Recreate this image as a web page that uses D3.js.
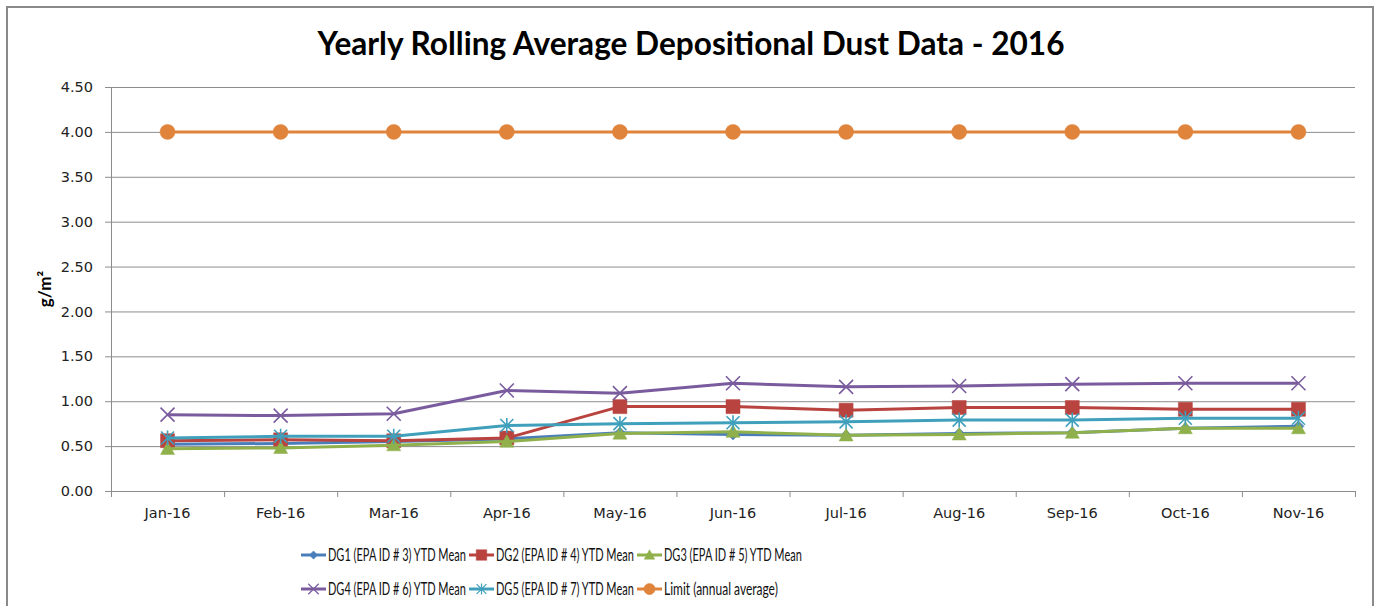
<!DOCTYPE html>
<html>
<head>
<meta charset="utf-8">
<script src="https://cdn.jsdelivr.net/npm/d3@7"></script>
<style>
  body { margin: 0; background: #fff; }
  svg { display: block; }
</style>
</head>
<body>
<div id="chart"></div>
<script>
// data
const months = ["Jan-16", "Feb-16", "Mar-16", "Apr-16", "May-16", "Jun-16", "Jul-16", "Aug-16", "Sep-16", "Oct-16", "Nov-16"]
const dg1 = [0.52, 0.53, 0.55, 0.58, 0.65, 0.63, 0.62, 0.64, 0.65, 0.70, 0.72]
const dg2 = [0.56, 0.57, 0.56, 0.59, 0.94, 0.94, 0.90, 0.93, 0.93, 0.91, 0.91]
const dg3 = [0.47, 0.48, 0.51, 0.55, 0.64, 0.66, 0.62, 0.63, 0.65, 0.70, 0.70]
const dg4 = [0.85, 0.84, 0.86, 1.12, 1.09, 1.20, 1.16, 1.17, 1.19, 1.20, 1.20]
const dg5 = [0.59, 0.61, 0.61, 0.73, 0.75, 0.76, 0.77, 0.79, 0.79, 0.81, 0.81]
const limit = [4.00, 4.00, 4.00, 4.00, 4.00, 4.00, 4.00, 4.00, 4.00, 4.00, 4.00]
const seriesNames = ["DG1 (EPA ID # 3) YTD Mean", "DG2 (EPA ID # 4) YTD Mean", "DG3 (EPA ID # 5) YTD Mean",
                     "DG4 (EPA ID # 6) YTD Mean", "DG5 (EPA ID # 7) YTD Mean", "Limit (annual average)"]
const yTicks = [0, 0.5, 1, 1.5, 2, 2.5, 3, 3.5, 4, 4.5]

const series = [
  {name: seriesNames[0], values: dg1, color: "#4A7EBB", marker: "diamond"},
  {name: seriesNames[1], values: dg2, color: "#B8433F", marker: "square"},
  {name: seriesNames[2], values: dg3, color: "#8FB04A", marker: "triangle"},
  {name: seriesNames[3], values: dg4, color: "#7A5C9E", marker: "x"},
  {name: seriesNames[4], values: dg5, color: "#40A0BC", marker: "star"},
  {name: seriesNames[5], values: limit, color: "#E0843C", marker: "circle"}
]

const W = 1379, H = 606
const margin = {top: 87, left: 111, right: 24, bottom: 115}
const innerW = W - margin.left - margin.right
const innerH = H - margin.top - margin.bottom

const svg = d3.select("#chart").append("svg")
    .attr("width", W)
    .attr("height", H)

// outer chart frame
svg.append("rect")
    .attr("x", 7).attr("y", 7)
    .attr("width", 1366).attr("height", 640)
    .attr("fill", "#fff")
    .attr("stroke", "#8a8a8a")
    .attr("stroke-width", 2)

svg.append("text")
    .attr("id", "title")
    .attr("x", 691).attr("y", 55)
    .attr("text-anchor", "middle")
    .attr("textLength", 747)
    .attr("lengthAdjust", "spacingAndGlyphs")
    .style("font", "bold 32px Lato, sans-serif")
    .attr("fill", "#000")
    .text("Yearly Rolling Average Depositional Dust Data - 2016")

const x = d3.scaleBand().domain(months).range([0, innerW]).padding(0)
const y = d3.scaleLinear().domain([0, 4.5]).range([innerH, 0])

const g = svg.append("g").attr("transform", `translate(${margin.left},${margin.top})`)

// gridlines
g.append("g")
    .call(d3.axisLeft(y).tickValues(yTicks.slice(1)).tickSize(-innerW).tickFormat(""))
    .call(s => s.select(".domain").remove())
    .call(s => s.selectAll("line").attr("stroke", "#8c8c8c").attr("stroke-width", 1))

// y axis
g.append("g")
    .call(d3.axisLeft(y).tickValues(yTicks).tickSize(6).tickPadding(12).tickFormat(d3.format(".2f")))
    .call(s => s.select(".domain").attr("d", `M0.5,0V${innerH}`))
    .call(s => s.selectAll("path, line").attr("stroke", "#8c8c8c"))
    .call(s => s.selectAll("text").style("font", "14.5px 'DejaVu Sans', sans-serif").attr("fill", "#222"))

// x axis: labels at centers, ticks at category edges
const xAxis = g.append("g").attr("transform", `translate(0,${innerH})`)
xAxis.call(d3.axisBottom(x).tickSize(0).tickPadding(17))
    .call(s => s.select(".domain").attr("d", `M0,0.5H${innerW}`).attr("stroke", "#8c8c8c"))
    .call(s => s.selectAll("text").style("font", "14.5px 'DejaVu Sans', sans-serif").attr("fill", "#222"))
xAxis.selectAll(".edge")
    .data(months.map(m => x(m)).concat([innerW]))
    .join("line")
    .attr("class", "edge")
    .attr("x1", d => d + 0.5).attr("x2", d => d + 0.5)
    .attr("y1", 0).attr("y2", 6)
    .attr("stroke", "#8c8c8c")

svg.append("text")
    .attr("transform", "translate(51,289) rotate(-90)")
    .attr("text-anchor", "middle")
    .style("font", "bold 17px Lato, sans-serif")
    .text("g/m²")

function markerPath(type, s) {
  const h = s / 2
  if (type === "diamond") return `M0,${-h}L${h},0L0,${h}L${-h},0Z`
  if (type === "square") return `M${-h},${-h}H${h}V${h}H${-h}Z`
  if (type === "triangle") return `M0,${-h}L${h},${h * 0.8}H${-h}Z`
  if (type === "x") return `M${-h},${-h}L${h},${h}M${-h},${h}L${h},${-h}`
  if (type === "star") return `M${-h},${-h}L${h},${h}M${-h},${h}L${h},${-h}M0,${-h * 1.15}V${h * 1.15}`
  return d3.symbol(d3.symbolCircle, s * s * Math.PI / 4)()
}
const markerSize = {diamond: 11, square: 14, triangle: 14, x: 14, star: 13, circle: 15}
const filled = t => !(t === "x" || t === "star")

const line = d3.line()
    .x((d, i) => x(months[i]) + x.bandwidth() / 2)
    .y(d => y(d))

const plot = g.append("g")
series.forEach(sr => {
  const sg = plot.append("g")
  sg.append("path")
      .attr("d", line(sr.values))
      .attr("fill", "none")
      .attr("stroke", sr.color)
      .attr("stroke-width", 3)
      .attr("stroke-linejoin", "round")
  sg.selectAll("path.mk")
      .data(sr.values)
      .join("path")
      .attr("class", "mk")
      .attr("transform", (d, i) => `translate(${x(months[i]) + x.bandwidth() / 2},${y(d)})`)
      .attr("d", markerPath(sr.marker, markerSize[sr.marker]))
      .attr("fill", filled(sr.marker) ? sr.color : "none")
      .attr("stroke", sr.color)
      .attr("stroke-width", filled(sr.marker) ? 0.5 : 1.6)
})

// legend, two rows of three; text squeezed sideways to mimic the narrow original font
const legend = svg.append("g")
const itemX = [301, 469, 637]
const rowY = [555, 589]
series.forEach((sr, i) => {
  const lx = itemX[i % 3], ly = rowY[Math.floor(i / 3)]
  const it = legend.append("g").attr("transform", `translate(${lx},${ly})`)
  it.append("line")
      .attr("x1", 0).attr("x2", 25)
      .attr("stroke", sr.color).attr("stroke-width", 3)
  it.append("path")
      .attr("transform", "translate(12.5,0)")
      .attr("d", markerPath(sr.marker, markerSize[sr.marker] * 0.75))
      .attr("fill", filled(sr.marker) ? sr.color : "none")
      .attr("stroke", sr.color)
      .attr("stroke-width", filled(sr.marker) ? 0.5 : 1.2)
  const tg = it.append("g").attr("transform", "translate(27,6)")
  const t = tg.append("text")
      .style("font", "17px Lato, sans-serif")
      .attr("fill", "#111")
      .text(sr.name)
  const target = sr.marker === "circle" ? 114 : 138
  const sx = target / t.node().getComputedTextLength()
  tg.attr("transform", `translate(27,6) scale(${sx},1)`)
})
</script>
</body>
</html>
